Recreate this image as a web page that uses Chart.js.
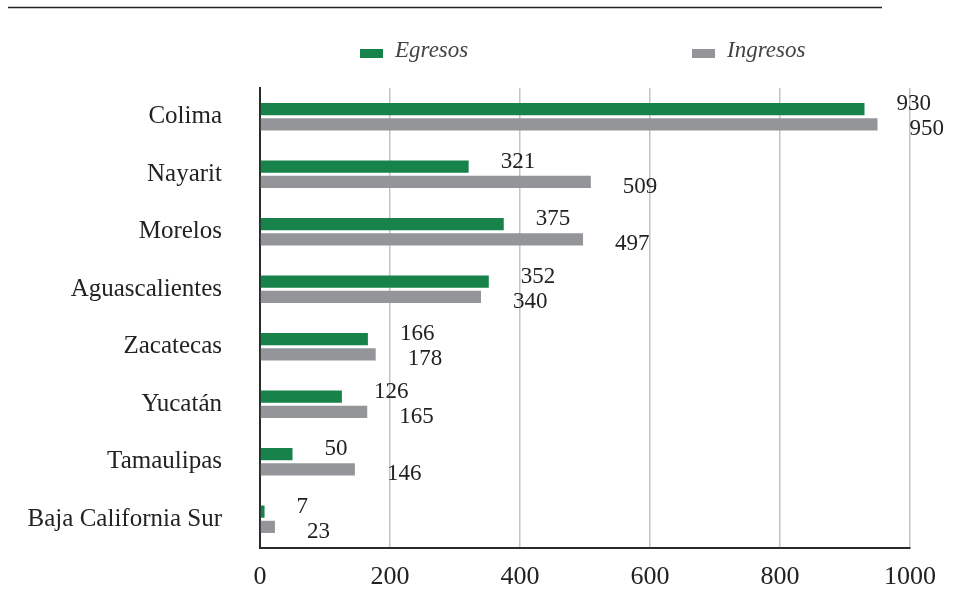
<!DOCTYPE html>
<html>
<head>
<meta charset="utf-8">
<script src="https://cdn.jsdelivr.net/npm/chart.js@4/dist/chart.umd.min.js"></script>
<style>
  body { margin: 0; background: #fff; }
  #wrap { width: 959px; height: 592px; position: relative; }
</style>
</head>
<body>
<div id="wrap"><canvas id="chart" width="959" height="592"></canvas></div>
<script>
// estados, de mayor a menor
var estados = ['Colima', 'Nayarit', 'Morelos', 'Aguascalientes', 'Zacatecas', 'Yucatán', 'Tamaulipas', 'Baja California Sur'];
var egresos = [930, 321, 375, 352, 166, 126, 50, 7];
var ingresos = [950, 509, 497, 340, 178, 165, 146, 23];
var ticksX = [0, 200, 400, 600, 800, 1000];

var serif = "'Liberation Serif', 'Times New Roman', serif";
var verde = '#17824a';
var gris = '#939598';

// linea superior + leyenda a mano (los items van muy separados)
var marco = {
    id: 'marco',
    beforeDraw: function (chart) {
        var ctx = chart.ctx;
        ctx.save();
        ctx.strokeStyle = '#222';
        ctx.lineWidth = 1.5;
        ctx.beginPath();
        ctx.moveTo(8, 7.5);
        ctx.lineTo(882, 7.5);
        ctx.stroke();

        var pos = [360, 692];
        ctx.font = 'italic 23px ' + serif;
        ctx.textBaseline = 'middle';
        chart.data.datasets.forEach(function (ds, i) {
            ctx.fillStyle = ds.backgroundColor;
            ctx.fillRect(pos[i], 49, 23, 9);
            ctx.fillStyle = '#444';
            ctx.fillText(ds.label, pos[i] + 35, 51);
        });
        ctx.restore();
    }
};

// valores al lado de cada barra
var valores = {
    id: 'valores',
    afterDatasetsDraw: function (chart) {
        var ctx = chart.ctx;
        ctx.save();
        ctx.font = '23px ' + serif;
        ctx.fillStyle = '#222';
        ctx.textBaseline = 'middle';
        chart.data.datasets.forEach(function (ds, i) {
            var meta = chart.getDatasetMeta(i);
            meta.data.forEach(function (bar, j) {
                var dy = i === 0 ? -5 : 5;
                ctx.fillText(ds.data[j], bar.x + 32, bar.y + dy);
            });
        });
        ctx.restore();
    }
};

var ctx = document.getElementById('chart').getContext('2d');
var myChart = new Chart(ctx, {
    type: 'bar',
    data: {
        labels: estados,
        datasets: [{
            label: 'Egresos',
            data: egresos,
            backgroundColor: verde,
            categoryPercentage: 0.53,
            barPercentage: 0.8
        }, {
            label: 'Ingresos',
            data: ingresos,
            backgroundColor: gris,
            categoryPercentage: 0.53,
            barPercentage: 0.8
        }]
    },
    options: {
        indexAxis: 'y',
        responsive: false,
        devicePixelRatio: 1,
        animation: false,
        layout: { padding: { top: 88, right: 49, left: 0, bottom: 0 } },
        plugins: {
            legend: { display: false },
            tooltip: { enabled: false }
        },
        scales: {
            x: {
                min: 0,
                max: 1000,
                afterBuildTicks: function (scale) {
                    scale.ticks = ticksX.map(function (v) { return { value: v }; });
                },
                afterFit: function (scale) { scale.height = 44; },
                grid: { color: '#c4c4c4', lineWidth: 1.5, drawTicks: false },
                border: { color: '#2a2a2a', width: 2 },
                ticks: {
                    padding: 14,
                    color: '#222',
                    font: { family: serif, size: 26 },
                    callback: function (v) { return String(v); }
                }
            },
            y: {
                afterFit: function (scale) {
                    scale.width = 260;
                    scale.paddingTop = 0;
                    scale.paddingBottom = 0;
                },
                grid: { display: false, drawTicks: false },
                border: { color: '#2a2a2a', width: 2 },
                ticks: {
                    padding: 38,
                    color: '#222',
                    font: { family: serif, size: 25 }
                }
            }
        }
    },
    plugins: [marco, valores]
});
</script>
</body>
</html>
